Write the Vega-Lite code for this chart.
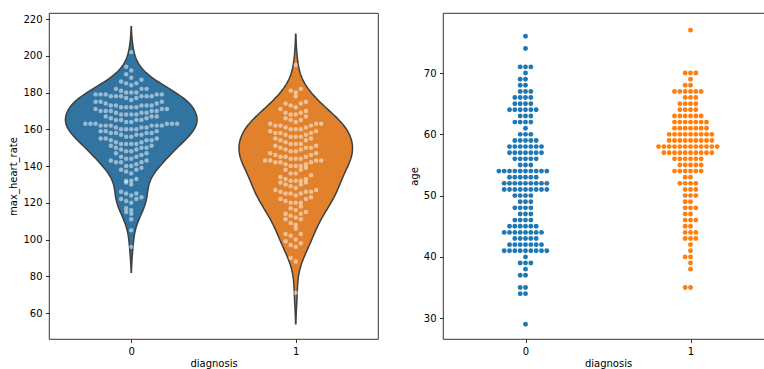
{
"$schema": "https://vega.github.io/schema/vega-lite/v6.json",
"padding": {"left": 8, "top": 12, "right": 0, "bottom": 0},
"background": "white",
"datasets": {
"hr": [
{"diagnosis":0,"max_heart_rate":202},{"diagnosis":0,"max_heart_rate":194},{"diagnosis":0,"max_heart_rate":192},{"diagnosis":0,"max_heart_rate":190},
{"diagnosis":0,"max_heart_rate":188},{"diagnosis":0,"max_heart_rate":187},{"diagnosis":0,"max_heart_rate":186},{"diagnosis":0,"max_heart_rate":185},{"diagnosis":0,"max_heart_rate":185},
{"diagnosis":0,"max_heart_rate":184},{"diagnosis":0,"max_heart_rate":182},{"diagnosis":0,"max_heart_rate":182},{"diagnosis":0,"max_heart_rate":182},{"diagnosis":0,"max_heart_rate":181},{"diagnosis":0,"max_heart_rate":180},{"diagnosis":0,"max_heart_rate":180},{"diagnosis":0,"max_heart_rate":180},
{"diagnosis":0,"max_heart_rate":179},{"diagnosis":0,"max_heart_rate":179},{"diagnosis":0,"max_heart_rate":179},{"diagnosis":0,"max_heart_rate":179},{"diagnosis":0,"max_heart_rate":178},{"diagnosis":0,"max_heart_rate":178},{"diagnosis":0,"max_heart_rate":178},{"diagnosis":0,"max_heart_rate":178},{"diagnosis":0,"max_heart_rate":178},{"diagnosis":0,"max_heart_rate":177},{"diagnosis":0,"max_heart_rate":177},{"diagnosis":0,"max_heart_rate":176},{"diagnosis":0,"max_heart_rate":175},{"diagnosis":0,"max_heart_rate":175},{"diagnosis":0,"max_heart_rate":175},{"diagnosis":0,"max_heart_rate":179},{"diagnosis":0,"max_heart_rate":178},
{"diagnosis":0,"max_heart_rate":174},{"diagnosis":0,"max_heart_rate":174},{"diagnosis":0,"max_heart_rate":173},{"diagnosis":0,"max_heart_rate":173},{"diagnosis":0,"max_heart_rate":173},{"diagnosis":0,"max_heart_rate":173},{"diagnosis":0,"max_heart_rate":172},{"diagnosis":0,"max_heart_rate":172},{"diagnosis":0,"max_heart_rate":172},{"diagnosis":0,"max_heart_rate":172},{"diagnosis":0,"max_heart_rate":171},{"diagnosis":0,"max_heart_rate":171},{"diagnosis":0,"max_heart_rate":171},{"diagnosis":0,"max_heart_rate":170},{"diagnosis":0,"max_heart_rate":170},{"diagnosis":0,"max_heart_rate":170},{"diagnosis":0,"max_heart_rate":170},{"diagnosis":0,"max_heart_rate":170},{"diagnosis":0,"max_heart_rate":173},
{"diagnosis":0,"max_heart_rate":169},{"diagnosis":0,"max_heart_rate":169},{"diagnosis":0,"max_heart_rate":168},{"diagnosis":0,"max_heart_rate":168},{"diagnosis":0,"max_heart_rate":168},{"diagnosis":0,"max_heart_rate":167},{"diagnosis":0,"max_heart_rate":167},{"diagnosis":0,"max_heart_rate":166},{"diagnosis":0,"max_heart_rate":165},{"diagnosis":0,"max_heart_rate":165},{"diagnosis":0,"max_heart_rate":165},{"diagnosis":0,"max_heart_rate":169},{"diagnosis":0,"max_heart_rate":168},{"diagnosis":0,"max_heart_rate":167},{"diagnosis":0,"max_heart_rate":166},{"diagnosis":0,"max_heart_rate":165},
{"diagnosis":0,"max_heart_rate":163},{"diagnosis":0,"max_heart_rate":163},{"diagnosis":0,"max_heart_rate":163},{"diagnosis":0,"max_heart_rate":163},{"diagnosis":0,"max_heart_rate":163},{"diagnosis":0,"max_heart_rate":162},{"diagnosis":0,"max_heart_rate":162},{"diagnosis":0,"max_heart_rate":162},{"diagnosis":0,"max_heart_rate":162},{"diagnosis":0,"max_heart_rate":162},{"diagnosis":0,"max_heart_rate":162},{"diagnosis":0,"max_heart_rate":161},{"diagnosis":0,"max_heart_rate":161},{"diagnosis":0,"max_heart_rate":160},{"diagnosis":0,"max_heart_rate":160},{"diagnosis":0,"max_heart_rate":160},{"diagnosis":0,"max_heart_rate":160},{"diagnosis":0,"max_heart_rate":164},{"diagnosis":0,"max_heart_rate":164},{"diagnosis":0,"max_heart_rate":161},{"diagnosis":0,"max_heart_rate":163},
{"diagnosis":0,"max_heart_rate":159},{"diagnosis":0,"max_heart_rate":159},{"diagnosis":0,"max_heart_rate":158},{"diagnosis":0,"max_heart_rate":158},{"diagnosis":0,"max_heart_rate":158},{"diagnosis":0,"max_heart_rate":157},{"diagnosis":0,"max_heart_rate":157},{"diagnosis":0,"max_heart_rate":156},{"diagnosis":0,"max_heart_rate":156},{"diagnosis":0,"max_heart_rate":155},{"diagnosis":0,"max_heart_rate":155},{"diagnosis":0,"max_heart_rate":155},{"diagnosis":0,"max_heart_rate":159},{"diagnosis":0,"max_heart_rate":158},{"diagnosis":0,"max_heart_rate":157},
{"diagnosis":0,"max_heart_rate":154},{"diagnosis":0,"max_heart_rate":154},{"diagnosis":0,"max_heart_rate":153},{"diagnosis":0,"max_heart_rate":153},{"diagnosis":0,"max_heart_rate":152},{"diagnosis":0,"max_heart_rate":152},{"diagnosis":0,"max_heart_rate":152},{"diagnosis":0,"max_heart_rate":151},{"diagnosis":0,"max_heart_rate":151},{"diagnosis":0,"max_heart_rate":150},{"diagnosis":0,"max_heart_rate":150},{"diagnosis":0,"max_heart_rate":150},{"diagnosis":0,"max_heart_rate":154},{"diagnosis":0,"max_heart_rate":152},
{"diagnosis":0,"max_heart_rate":149},{"diagnosis":0,"max_heart_rate":148},{"diagnosis":0,"max_heart_rate":148},{"diagnosis":0,"max_heart_rate":147},{"diagnosis":0,"max_heart_rate":147},{"diagnosis":0,"max_heart_rate":146},{"diagnosis":0,"max_heart_rate":145},{"diagnosis":0,"max_heart_rate":145},{"diagnosis":0,"max_heart_rate":149},
{"diagnosis":0,"max_heart_rate":144},{"diagnosis":0,"max_heart_rate":143},{"diagnosis":0,"max_heart_rate":143},{"diagnosis":0,"max_heart_rate":142},{"diagnosis":0,"max_heart_rate":142},{"diagnosis":0,"max_heart_rate":141},{"diagnosis":0,"max_heart_rate":140},{"diagnosis":0,"max_heart_rate":140},{"diagnosis":0,"max_heart_rate":144},{"diagnosis":0,"max_heart_rate":142},
{"diagnosis":0,"max_heart_rate":139},{"diagnosis":0,"max_heart_rate":138},{"diagnosis":0,"max_heart_rate":138},{"diagnosis":0,"max_heart_rate":137},{"diagnosis":0,"max_heart_rate":136},
{"diagnosis":0,"max_heart_rate":133},{"diagnosis":0,"max_heart_rate":132},{"diagnosis":0,"max_heart_rate":132},{"diagnosis":0,"max_heart_rate":131},{"diagnosis":0,"max_heart_rate":130},
{"diagnosis":0,"max_heart_rate":126},{"diagnosis":0,"max_heart_rate":125},{"diagnosis":0,"max_heart_rate":125},
{"diagnosis":0,"max_heart_rate":124},{"diagnosis":0,"max_heart_rate":123},{"diagnosis":0,"max_heart_rate":122},{"diagnosis":0,"max_heart_rate":122},{"diagnosis":0,"max_heart_rate":121},{"diagnosis":0,"max_heart_rate":120},
{"diagnosis":0,"max_heart_rate":117},{"diagnosis":0,"max_heart_rate":116},{"diagnosis":0,"max_heart_rate":115},
{"diagnosis":0,"max_heart_rate":114},{"diagnosis":0,"max_heart_rate":111},{"diagnosis":0,"max_heart_rate":105},{"diagnosis":0,"max_heart_rate":96},
{"diagnosis":1,"max_heart_rate":195},
{"diagnosis":1,"max_heart_rate":182},{"diagnosis":1,"max_heart_rate":181},{"diagnosis":1,"max_heart_rate":180},
{"diagnosis":1,"max_heart_rate":178},{"diagnosis":1,"max_heart_rate":175},
{"diagnosis":1,"max_heart_rate":174},{"diagnosis":1,"max_heart_rate":174},{"diagnosis":1,"max_heart_rate":173},{"diagnosis":1,"max_heart_rate":172},{"diagnosis":1,"max_heart_rate":171},{"diagnosis":1,"max_heart_rate":170},
{"diagnosis":1,"max_heart_rate":169},{"diagnosis":1,"max_heart_rate":169},{"diagnosis":1,"max_heart_rate":168},{"diagnosis":1,"max_heart_rate":168},{"diagnosis":1,"max_heart_rate":167},{"diagnosis":1,"max_heart_rate":166},{"diagnosis":1,"max_heart_rate":165},{"diagnosis":1,"max_heart_rate":165},
{"diagnosis":1,"max_heart_rate":164},{"diagnosis":1,"max_heart_rate":163},{"diagnosis":1,"max_heart_rate":163},{"diagnosis":1,"max_heart_rate":162},{"diagnosis":1,"max_heart_rate":162},{"diagnosis":1,"max_heart_rate":162},{"diagnosis":1,"max_heart_rate":161},{"diagnosis":1,"max_heart_rate":161},{"diagnosis":1,"max_heart_rate":160},{"diagnosis":1,"max_heart_rate":160},{"diagnosis":1,"max_heart_rate":160},{"diagnosis":1,"max_heart_rate":163},
{"diagnosis":1,"max_heart_rate":159},{"diagnosis":1,"max_heart_rate":159},{"diagnosis":1,"max_heart_rate":158},{"diagnosis":1,"max_heart_rate":158},{"diagnosis":1,"max_heart_rate":157},{"diagnosis":1,"max_heart_rate":157},{"diagnosis":1,"max_heart_rate":156},{"diagnosis":1,"max_heart_rate":156},{"diagnosis":1,"max_heart_rate":155},{"diagnosis":1,"max_heart_rate":155},{"diagnosis":1,"max_heart_rate":158},{"diagnosis":1,"max_heart_rate":156},
{"diagnosis":1,"max_heart_rate":154},{"diagnosis":1,"max_heart_rate":154},{"diagnosis":1,"max_heart_rate":153},{"diagnosis":1,"max_heart_rate":152},{"diagnosis":1,"max_heart_rate":152},{"diagnosis":1,"max_heart_rate":151},{"diagnosis":1,"max_heart_rate":151},{"diagnosis":1,"max_heart_rate":150},{"diagnosis":1,"max_heart_rate":150},{"diagnosis":1,"max_heart_rate":150},{"diagnosis":1,"max_heart_rate":152},
{"diagnosis":1,"max_heart_rate":149},{"diagnosis":1,"max_heart_rate":148},{"diagnosis":1,"max_heart_rate":147},{"diagnosis":1,"max_heart_rate":147},{"diagnosis":1,"max_heart_rate":146},{"diagnosis":1,"max_heart_rate":145},{"diagnosis":1,"max_heart_rate":145},{"diagnosis":1,"max_heart_rate":145},{"diagnosis":1,"max_heart_rate":148},{"diagnosis":1,"max_heart_rate":146},{"diagnosis":1,"max_heart_rate":149},
{"diagnosis":1,"max_heart_rate":144},{"diagnosis":1,"max_heart_rate":144},{"diagnosis":1,"max_heart_rate":143},{"diagnosis":1,"max_heart_rate":143},{"diagnosis":1,"max_heart_rate":143},{"diagnosis":1,"max_heart_rate":142},{"diagnosis":1,"max_heart_rate":142},{"diagnosis":1,"max_heart_rate":141},{"diagnosis":1,"max_heart_rate":141},{"diagnosis":1,"max_heart_rate":140},{"diagnosis":1,"max_heart_rate":140},{"diagnosis":1,"max_heart_rate":140},{"diagnosis":1,"max_heart_rate":144},{"diagnosis":1,"max_heart_rate":142},{"diagnosis":1,"max_heart_rate":143},
{"diagnosis":1,"max_heart_rate":139},{"diagnosis":1,"max_heart_rate":138},{"diagnosis":1,"max_heart_rate":138},{"diagnosis":1,"max_heart_rate":136},{"diagnosis":1,"max_heart_rate":136},{"diagnosis":1,"max_heart_rate":135},
{"diagnosis":1,"max_heart_rate":134},{"diagnosis":1,"max_heart_rate":133},{"diagnosis":1,"max_heart_rate":133},{"diagnosis":1,"max_heart_rate":132},{"diagnosis":1,"max_heart_rate":132},{"diagnosis":1,"max_heart_rate":132},{"diagnosis":1,"max_heart_rate":131},{"diagnosis":1,"max_heart_rate":131},{"diagnosis":1,"max_heart_rate":130},{"diagnosis":1,"max_heart_rate":130},
{"diagnosis":1,"max_heart_rate":128},{"diagnosis":1,"max_heart_rate":127},{"diagnosis":1,"max_heart_rate":126},{"diagnosis":1,"max_heart_rate":126},{"diagnosis":1,"max_heart_rate":126},{"diagnosis":1,"max_heart_rate":125},{"diagnosis":1,"max_heart_rate":125},{"diagnosis":1,"max_heart_rate":125},{"diagnosis":1,"max_heart_rate":129},{"diagnosis":1,"max_heart_rate":127},
{"diagnosis":1,"max_heart_rate":124},{"diagnosis":1,"max_heart_rate":123},{"diagnosis":1,"max_heart_rate":122},{"diagnosis":1,"max_heart_rate":122},{"diagnosis":1,"max_heart_rate":121},{"diagnosis":1,"max_heart_rate":120},{"diagnosis":1,"max_heart_rate":120},{"diagnosis":1,"max_heart_rate":120},
{"diagnosis":1,"max_heart_rate":118},{"diagnosis":1,"max_heart_rate":117},{"diagnosis":1,"max_heart_rate":116},{"diagnosis":1,"max_heart_rate":115},
{"diagnosis":1,"max_heart_rate":114},{"diagnosis":1,"max_heart_rate":114},{"diagnosis":1,"max_heart_rate":113},{"diagnosis":1,"max_heart_rate":112},{"diagnosis":1,"max_heart_rate":111},{"diagnosis":1,"max_heart_rate":111},
{"diagnosis":1,"max_heart_rate":109},{"diagnosis":1,"max_heart_rate":108},{"diagnosis":1,"max_heart_rate":106},
{"diagnosis":1,"max_heart_rate":103},{"diagnosis":1,"max_heart_rate":103},{"diagnosis":1,"max_heart_rate":102},{"diagnosis":1,"max_heart_rate":100},
{"diagnosis":1,"max_heart_rate":99},{"diagnosis":1,"max_heart_rate":98},{"diagnosis":1,"max_heart_rate":97},{"diagnosis":1,"max_heart_rate":96},
{"diagnosis":1,"max_heart_rate":90},{"diagnosis":1,"max_heart_rate":88},{"diagnosis":1,"max_heart_rate":71}
],
"ages": [
{"diagnosis":0,"age":76},{"diagnosis":0,"age":74},{"diagnosis":0,"age":71},{"diagnosis":0,"age":71},{"diagnosis":0,"age":71},{"diagnosis":0,"age":70},{"diagnosis":0,"age":69},{"diagnosis":0,"age":69},{"diagnosis":0,"age":68},{"diagnosis":0,"age":68},
{"diagnosis":0,"age":67},{"diagnosis":0,"age":67},{"diagnosis":0,"age":67},{"diagnosis":0,"age":66},{"diagnosis":0,"age":66},{"diagnosis":0,"age":66},{"diagnosis":0,"age":66},{"diagnosis":0,"age":65},{"diagnosis":0,"age":65},{"diagnosis":0,"age":65},{"diagnosis":0,"age":65},
{"diagnosis":0,"age":64},{"diagnosis":0,"age":64},{"diagnosis":0,"age":64},{"diagnosis":0,"age":64},{"diagnosis":0,"age":64},{"diagnosis":0,"age":64},{"diagnosis":0,"age":63},{"diagnosis":0,"age":63},{"diagnosis":0,"age":63},
{"diagnosis":0,"age":62},{"diagnosis":0,"age":62},{"diagnosis":0,"age":62},{"diagnosis":0,"age":62},{"diagnosis":0,"age":61},{"diagnosis":0,"age":60},{"diagnosis":0,"age":60},{"diagnosis":0,"age":60},
{"diagnosis":0,"age":59},{"diagnosis":0,"age":59},{"diagnosis":0,"age":59},{"diagnosis":0,"age":59},{"diagnosis":0,"age":59},
{"diagnosis":0,"age":58},{"diagnosis":0,"age":58},{"diagnosis":0,"age":58},{"diagnosis":0,"age":58},{"diagnosis":0,"age":58},{"diagnosis":0,"age":58},{"diagnosis":0,"age":58},
{"diagnosis":0,"age":57},{"diagnosis":0,"age":57},{"diagnosis":0,"age":57},{"diagnosis":0,"age":57},{"diagnosis":0,"age":57},{"diagnosis":0,"age":57},{"diagnosis":0,"age":57},
{"diagnosis":0,"age":56},{"diagnosis":0,"age":56},{"diagnosis":0,"age":56},{"diagnosis":0,"age":56},{"diagnosis":0,"age":56},{"diagnosis":0,"age":55},{"diagnosis":0,"age":55},{"diagnosis":0,"age":55},
{"diagnosis":0,"age":54},{"diagnosis":0,"age":54},{"diagnosis":0,"age":54},{"diagnosis":0,"age":54},{"diagnosis":0,"age":54},{"diagnosis":0,"age":54},{"diagnosis":0,"age":54},{"diagnosis":0,"age":54},{"diagnosis":0,"age":54},{"diagnosis":0,"age":54},
{"diagnosis":0,"age":53},{"diagnosis":0,"age":53},{"diagnosis":0,"age":53},{"diagnosis":0,"age":53},{"diagnosis":0,"age":53},{"diagnosis":0,"age":53},
{"diagnosis":0,"age":52},{"diagnosis":0,"age":52},{"diagnosis":0,"age":52},{"diagnosis":0,"age":52},{"diagnosis":0,"age":52},{"diagnosis":0,"age":52},{"diagnosis":0,"age":52},{"diagnosis":0,"age":52},{"diagnosis":0,"age":52},
{"diagnosis":0,"age":51},{"diagnosis":0,"age":51},{"diagnosis":0,"age":51},{"diagnosis":0,"age":51},{"diagnosis":0,"age":51},{"diagnosis":0,"age":51},{"diagnosis":0,"age":51},{"diagnosis":0,"age":51},{"diagnosis":0,"age":51},
{"diagnosis":0,"age":50},{"diagnosis":0,"age":50},{"diagnosis":0,"age":50},{"diagnosis":0,"age":50},{"diagnosis":0,"age":49},{"diagnosis":0,"age":49},{"diagnosis":0,"age":49},
{"diagnosis":0,"age":48},{"diagnosis":0,"age":48},{"diagnosis":0,"age":48},{"diagnosis":0,"age":48},{"diagnosis":0,"age":47},{"diagnosis":0,"age":47},{"diagnosis":0,"age":47},
{"diagnosis":0,"age":46},{"diagnosis":0,"age":46},{"diagnosis":0,"age":46},{"diagnosis":0,"age":46},
{"diagnosis":0,"age":45},{"diagnosis":0,"age":45},{"diagnosis":0,"age":45},{"diagnosis":0,"age":45},{"diagnosis":0,"age":45},{"diagnosis":0,"age":45},
{"diagnosis":0,"age":44},{"diagnosis":0,"age":44},{"diagnosis":0,"age":44},{"diagnosis":0,"age":44},{"diagnosis":0,"age":44},{"diagnosis":0,"age":44},{"diagnosis":0,"age":44},{"diagnosis":0,"age":44},
{"diagnosis":0,"age":43},{"diagnosis":0,"age":43},{"diagnosis":0,"age":43},{"diagnosis":0,"age":43},{"diagnosis":0,"age":43},
{"diagnosis":0,"age":42},{"diagnosis":0,"age":42},{"diagnosis":0,"age":42},{"diagnosis":0,"age":42},{"diagnosis":0,"age":42},{"diagnosis":0,"age":42},{"diagnosis":0,"age":42},
{"diagnosis":0,"age":41},{"diagnosis":0,"age":41},{"diagnosis":0,"age":41},{"diagnosis":0,"age":41},{"diagnosis":0,"age":41},{"diagnosis":0,"age":41},{"diagnosis":0,"age":41},{"diagnosis":0,"age":41},{"diagnosis":0,"age":41},
{"diagnosis":0,"age":40},{"diagnosis":0,"age":39},{"diagnosis":0,"age":39},{"diagnosis":0,"age":39},{"diagnosis":0,"age":38},{"diagnosis":0,"age":37},{"diagnosis":0,"age":37},
{"diagnosis":0,"age":35},{"diagnosis":0,"age":35},{"diagnosis":0,"age":34},{"diagnosis":0,"age":34},{"diagnosis":0,"age":29},
{"diagnosis":1,"age":77},{"diagnosis":1,"age":70},{"diagnosis":1,"age":70},{"diagnosis":1,"age":70},{"diagnosis":1,"age":69},{"diagnosis":1,"age":68},{"diagnosis":1,"age":68},
{"diagnosis":1,"age":67},{"diagnosis":1,"age":67},{"diagnosis":1,"age":67},{"diagnosis":1,"age":67},{"diagnosis":1,"age":67},{"diagnosis":1,"age":67},
{"diagnosis":1,"age":66},{"diagnosis":1,"age":66},{"diagnosis":1,"age":66},{"diagnosis":1,"age":65},{"diagnosis":1,"age":65},{"diagnosis":1,"age":65},{"diagnosis":1,"age":65},
{"diagnosis":1,"age":64},{"diagnosis":1,"age":64},{"diagnosis":1,"age":64},{"diagnosis":1,"age":64},
{"diagnosis":1,"age":63},{"diagnosis":1,"age":63},{"diagnosis":1,"age":63},{"diagnosis":1,"age":63},{"diagnosis":1,"age":63},{"diagnosis":1,"age":63},
{"diagnosis":1,"age":62},{"diagnosis":1,"age":62},{"diagnosis":1,"age":62},{"diagnosis":1,"age":62},{"diagnosis":1,"age":62},{"diagnosis":1,"age":62},{"diagnosis":1,"age":62},
{"diagnosis":1,"age":61},{"diagnosis":1,"age":61},{"diagnosis":1,"age":61},{"diagnosis":1,"age":61},{"diagnosis":1,"age":61},{"diagnosis":1,"age":61},{"diagnosis":1,"age":61},
{"diagnosis":1,"age":60},{"diagnosis":1,"age":60},{"diagnosis":1,"age":60},{"diagnosis":1,"age":60},{"diagnosis":1,"age":60},{"diagnosis":1,"age":60},{"diagnosis":1,"age":60},{"diagnosis":1,"age":60},{"diagnosis":1,"age":60},
{"diagnosis":1,"age":59},{"diagnosis":1,"age":59},{"diagnosis":1,"age":59},{"diagnosis":1,"age":59},{"diagnosis":1,"age":59},{"diagnosis":1,"age":59},{"diagnosis":1,"age":59},{"diagnosis":1,"age":59},{"diagnosis":1,"age":59},
{"diagnosis":1,"age":58},{"diagnosis":1,"age":58},{"diagnosis":1,"age":58},{"diagnosis":1,"age":58},{"diagnosis":1,"age":58},{"diagnosis":1,"age":58},{"diagnosis":1,"age":58},{"diagnosis":1,"age":58},{"diagnosis":1,"age":58},{"diagnosis":1,"age":58},{"diagnosis":1,"age":58},{"diagnosis":1,"age":58},
{"diagnosis":1,"age":57},{"diagnosis":1,"age":57},{"diagnosis":1,"age":57},{"diagnosis":1,"age":57},{"diagnosis":1,"age":57},{"diagnosis":1,"age":57},{"diagnosis":1,"age":57},{"diagnosis":1,"age":57},{"diagnosis":1,"age":57},{"diagnosis":1,"age":57},
{"diagnosis":1,"age":56},{"diagnosis":1,"age":56},{"diagnosis":1,"age":56},{"diagnosis":1,"age":56},{"diagnosis":1,"age":56},{"diagnosis":1,"age":56},
{"diagnosis":1,"age":55},{"diagnosis":1,"age":55},{"diagnosis":1,"age":55},{"diagnosis":1,"age":55},{"diagnosis":1,"age":55},
{"diagnosis":1,"age":54},{"diagnosis":1,"age":54},{"diagnosis":1,"age":54},{"diagnosis":1,"age":54},{"diagnosis":1,"age":54},{"diagnosis":1,"age":54},
{"diagnosis":1,"age":53},{"diagnosis":1,"age":53},{"diagnosis":1,"age":52},{"diagnosis":1,"age":52},{"diagnosis":1,"age":52},{"diagnosis":1,"age":52},
{"diagnosis":1,"age":51},{"diagnosis":1,"age":51},{"diagnosis":1,"age":51},{"diagnosis":1,"age":50},{"diagnosis":1,"age":50},{"diagnosis":1,"age":50},
{"diagnosis":1,"age":49},{"diagnosis":1,"age":49},{"diagnosis":1,"age":48},{"diagnosis":1,"age":48},{"diagnosis":1,"age":48},{"diagnosis":1,"age":47},{"diagnosis":1,"age":47},
{"diagnosis":1,"age":46},{"diagnosis":1,"age":46},{"diagnosis":1,"age":46},{"diagnosis":1,"age":45},{"diagnosis":1,"age":45},
{"diagnosis":1,"age":44},{"diagnosis":1,"age":44},{"diagnosis":1,"age":44},{"diagnosis":1,"age":43},{"diagnosis":1,"age":43},{"diagnosis":1,"age":43},
{"diagnosis":1,"age":42},{"diagnosis":1,"age":41},{"diagnosis":1,"age":40},{"diagnosis":1,"age":40},{"diagnosis":1,"age":39},{"diagnosis":1,"age":38},{"diagnosis":1,"age":35},{"diagnosis":1,"age":35}
]
},
"hconcat": [
{
"width": 329, "height": 326,
"data": {"name": "hr"},
"layer": [
{
"transform": [
{"filter": "datum.diagnosis == 0"},
{"density": "max_heart_rate", "bandwidth": 6.9, "extent": [82.2, 215.8], "steps": 200, "as": ["value", "density"]},
{"joinaggregate": [{"op": "max", "field": "density", "as": "dmax"}]},
{"calculate": "0 - 0.4 * datum.density / datum.dmax", "as": "lo"},
{"calculate": "0 + 0.4 * datum.density / datum.dmax", "as": "hi"}
],
"mark": {"type": "area", "orient": "horizontal", "fill": "#3274a1", "fillOpacity": 1, "stroke": "#3f3f3f", "strokeWidth": 1.5},
"encoding": {
"y": {"field": "value", "type": "quantitative", "scale": {"domain": [45.85, 223.3], "nice": false, "zero": false}, "axis": {"title": "max_heart_rate", "values": [60, 80, 100, 120, 140, 160, 180, 200, 220]}},
"x": {"field": "lo", "type": "quantitative", "scale": {"domain": [-0.5, 1.5], "nice": false, "zero": false}, "axis": {"title": "diagnosis", "values": [0, 1], "format": "d"}},
"x2": {"field": "hi"}
}
},
{
"transform": [
{"filter": "datum.diagnosis == 1"},
{"density": "max_heart_rate", "bandwidth": 8.4, "extent": [54.2, 211.8], "steps": 200, "as": ["value", "density"]},
{"joinaggregate": [{"op": "max", "field": "density", "as": "dmax"}]},
{"calculate": "1 - 0.345 * datum.density / datum.dmax", "as": "lo"},
{"calculate": "1 + 0.345 * datum.density / datum.dmax", "as": "hi"}
],
"mark": {"type": "area", "orient": "horizontal", "fill": "#e1812c", "fillOpacity": 1, "stroke": "#3f3f3f", "strokeWidth": 1.5},
"encoding": {
"y": {"field": "value", "type": "quantitative", "scale": {"domain": [45.85, 223.3], "nice": false, "zero": false}, "axis": {"title": "max_heart_rate", "values": [60, 80, 100, 120, 140, 160, 180, 200, 220]}},
"x": {"field": "lo", "type": "quantitative", "scale": {"domain": [-0.5, 1.5], "nice": false, "zero": false}, "axis": {"title": "diagnosis", "values": [0, 1], "format": "d"}},
"x2": {"field": "hi"}
}
},
{
"transform": [
{"calculate": "floor(datum.max_heart_rate / 4)", "as": "hbin"},
{"window": [{"op": "row_number", "as": "rn"}], "groupby": ["diagnosis", "hbin"], "sort": [{"field": "max_heart_rate"}]},
{"calculate": "datum.diagnosis + (datum.rn % 2 == 0 ? -1 : 1) * floor(datum.rn / 2) * 0.031", "as": "xpos"}
],
"mark": {"type": "circle", "size": 20, "color": "white", "opacity": 0.5},
"encoding": {
"y": {"field": "max_heart_rate", "type": "quantitative", "scale": {"domain": [45.85, 223.3], "nice": false, "zero": false}, "axis": {"title": "max_heart_rate", "values": [60, 80, 100, 120, 140, 160, 180, 200, 220]}},
"x": {"field": "xpos", "type": "quantitative", "scale": {"domain": [-0.5, 1.5], "nice": false, "zero": false}, "axis": {"title": "diagnosis", "values": [0, 1], "format": "d"}}
}
}
]
},
{
"width": 330, "height": 326,
"data": {"name": "ages"},
"transform": [
{"window": [{"op": "row_number", "as": "rn"}], "groupby": ["diagnosis", "age"]},
{"calculate": "datum.diagnosis + (datum.rn % 2 == 0 ? -1 : 1) * floor(datum.rn / 2) * 0.0323", "as": "xpos"}
],
"mark": {"type": "circle", "size": 24, "opacity": 1},
"encoding": {
"y": {"field": "age", "type": "quantitative", "scale": {"domain": [26.6, 79.8], "nice": false, "zero": false}, "axis": {"title": "age", "values": [30, 40, 50, 60, 70]}},
"x": {"field": "xpos", "type": "quantitative", "scale": {"domain": [-0.5, 1.5], "nice": false, "zero": false}, "axis": {"title": "diagnosis", "values": [0, 1], "format": "d"}},
"color": {"field": "diagnosis", "type": "nominal", "scale": {"domain": [0, 1], "range": ["#1f77b4", "#ff7f0e"]}, "legend": null}
}
}
],
"spacing": 65,
"bounds": "flush",
"config": {
"font": "DejaVu Sans",
"view": {"stroke": "black", "strokeWidth": 0.8},
"axis": {"grid": false, "domain": false, "tickColor": "black", "tickWidth": 0.8, "tickSize": 3.5, "labelFontSize": 10, "labelColor": "black", "labelPadding": 3.5, "titleFontSize": 10, "titleFontWeight": "normal", "titleColor": "black", "titlePadding": 4, "labelFont": "DejaVu Sans", "titleFont": "DejaVu Sans"},
"axisX": {"titlePadding": 2}
}
}
